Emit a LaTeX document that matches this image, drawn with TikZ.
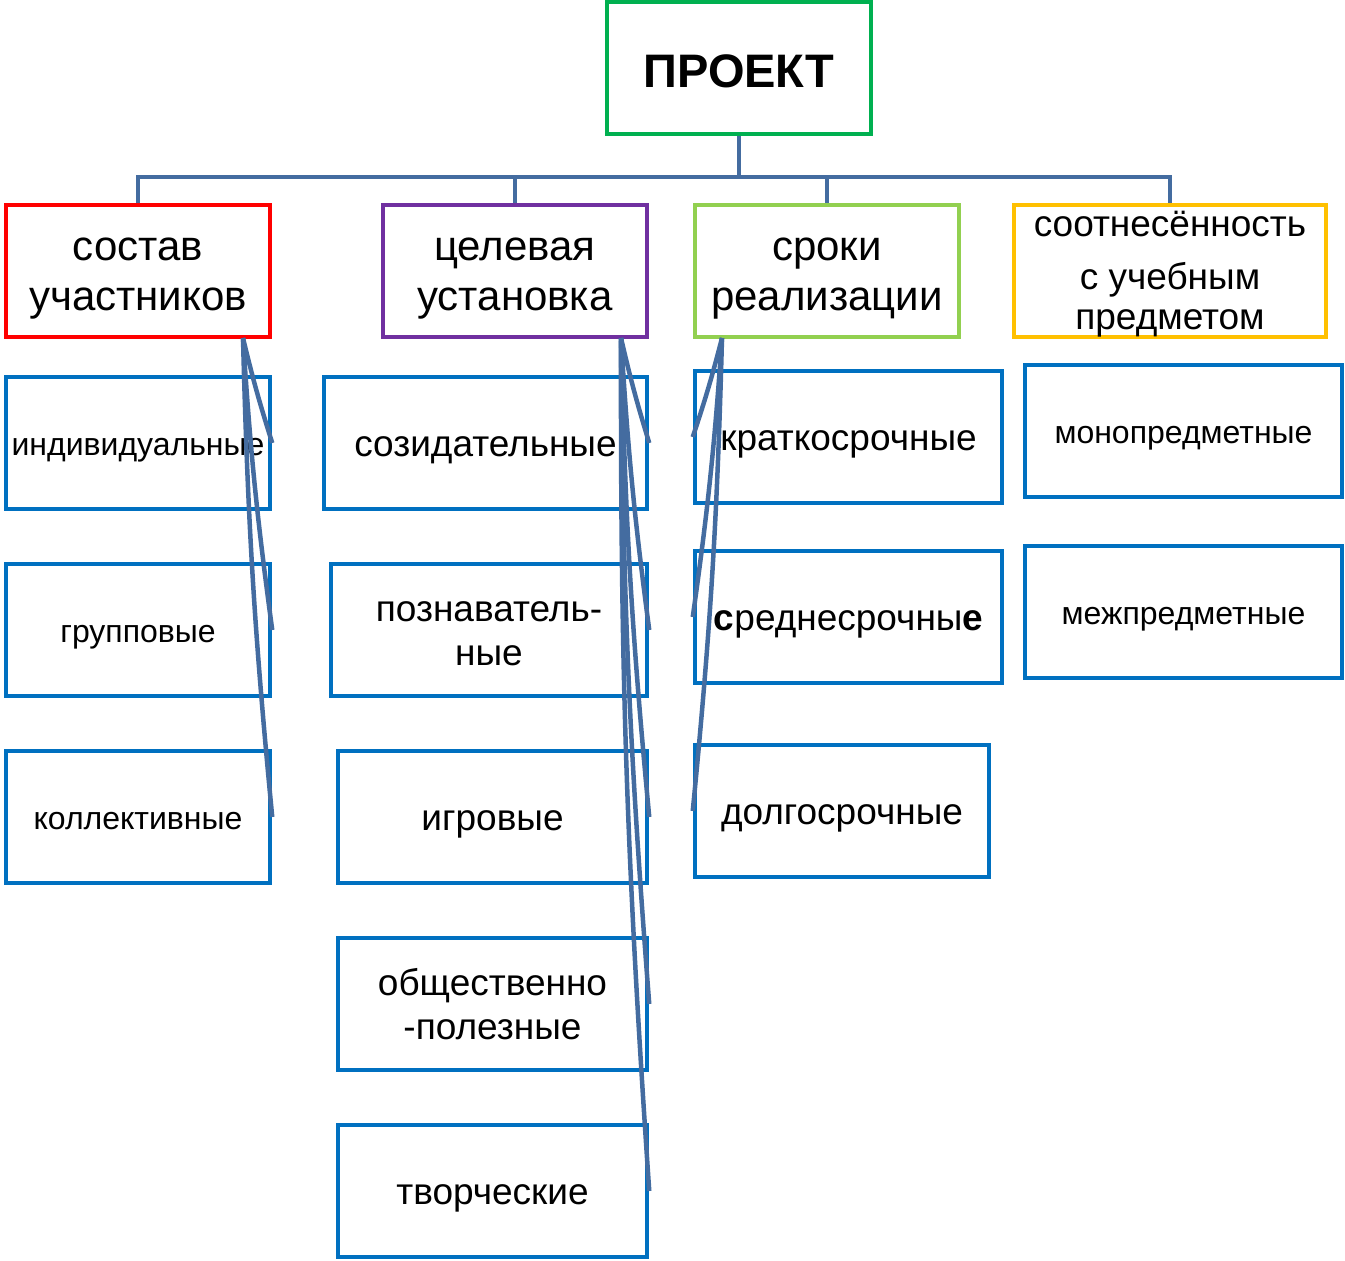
\documentclass[tikz,border=0pt]{standalone}
\usepackage{fontspec}
\setmainfont{Liberation Sans}
\definecolor{projgreen}{RGB}{0,176,80}
\definecolor{catred}{RGB}{255,0,0}
\definecolor{catpurple}{RGB}{112,48,160}
\definecolor{catlime}{RGB}{146,208,80}
\definecolor{catamber}{RGB}{255,192,0}
\definecolor{subblue}{RGB}{0,112,192}
\definecolor{linkblue}{RGB}{68,108,160}
\begin{document}
\begin{tikzpicture}[x=1pt, y=-1pt,
  box/.style={draw, line width=4.5pt, align=center, inner sep=0pt, minimum height=132pt},
  cat/.style={box, minimum width=264pt, font=\fontsize{42}{50}\selectfont, text height=79.8pt, text depth=0pt},
  sub/.style={box, draw=subblue, font=\fontsize{37}{44}\selectfont, text height=27pt, text depth=0pt},
  subtwo/.style={sub, text height=71pt},
  subsmall/.style={sub, font=\fontsize{32}{38}\selectfont, text height=24pt},
  link/.style={draw=linkblue, line width=4pt},
  wire/.style={draw=linkblue, line width=4.5pt}
]
\useasboundingbox (0,0) rectangle (1345,1261);
\node[box, draw=projgreen, minimum width=264pt, font=\fontsize{47}{52}\selectfont\bfseries, text height=38pt, text depth=0pt] (proj) at (739,68) {ПРОЕКТ};
\node[cat, draw=catred] (sostav) at (138,271) {состав\\участников};
\node[cat, draw=catpurple] (tsel) at (515,271) {целевая\\установка};
\node[cat, draw=catlime] (sroki) at (827,271) {сроки\\реализации};
\node[box, draw=catamber, minimum width=312pt, font=\fontsize{37}{40}\selectfont, text height=116pt, text depth=0pt] (sootn) at (1170,271) {соотнесённость\\[13pt]с учебным\\предметом};
% состав участников
\node[subsmall, minimum width=264pt] (ind) at (138,443) {индивидуальные};
\node[subsmall, minimum width=264pt] (grp) at (138,630) {групповые};
\node[subsmall, minimum width=264pt] (kol) at (138,817) {коллективные};
% целевая установка
\node[sub, minimum width=323pt] (soz) at (485.5,443) {созидательные};
\node[subtwo, minimum width=316pt] (pozn) at (489,630) {познаватель-\\ные};
\node[sub, minimum width=309pt] (igr) at (492.5,817) {игровые};
\node[subtwo, minimum width=309pt] (obsh) at (492.5,1004) {общественно\\-полезные};
\node[sub, minimum width=309pt] (tvor) at (492.5,1191) {творческие};
% сроки реализации
\node[sub, minimum width=307pt] (krat) at (848.5,437) {краткосрочные};
\node[sub, minimum width=307pt] (sred) at (848.5,617) {\textbf{с}реднесрочны\textbf{е}};
\node[sub, minimum width=294pt] (dolg) at (842,811) {долгосрочные};
% соотнесённость
\node[subsmall, minimum width=317pt] (mono) at (1183.5,431) {монопредметные};
\node[subsmall, minimum width=317pt] (mezh) at (1183.5,612) {межпредметные};
% tree
\coordinate (bus) at (0,177);
\draw[link] (proj.south) -- (proj.south |- bus) -| (sostav.north);
\draw[link] (proj.south) -- (proj.south |- bus) -| (tsel.north);
\draw[link] (proj.south) -- (proj.south |- bus) -| (sroki.north);
\draw[link] (proj.south) -- (proj.south |- bus) -| (sootn.north);
% connectors to the sub boxes
\coordinate (sfoot) at (243,338);
\coordinate (tfoot) at (621,338);
\coordinate (rfoot) at (722,338);
\draw[wire] (sfoot) to[bend right=2] (ind.east);
\draw[wire] (sfoot) to[bend right=2] (grp.east);
\draw[wire] (sfoot) to[bend right=2] (kol.east);
\draw[wire] (tfoot) to[bend right=2] (soz.east);
\draw[wire] (tfoot) to[bend right=2] (pozn.east);
\draw[wire] (tfoot) to[bend right=2] (igr.east);
\draw[wire] (tfoot) to[bend right=2] (obsh.east);
\draw[wire] (tfoot) to[bend right=2] (tvor.east);
\draw[wire] (rfoot) to[bend left=2] (krat.west);
\draw[wire] (rfoot) to[bend left=2] (sred.west);
\draw[wire] (rfoot) to[bend left=2] (dolg.west);
\end{tikzpicture}
\end{document}
